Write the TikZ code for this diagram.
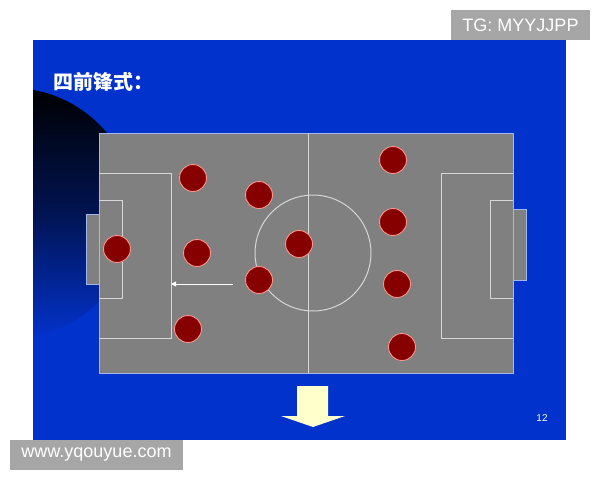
\documentclass[tikz,border=0pt]{standalone}
\usepackage{fontspec}
\setmainfont{Liberation Sans}
\newfontfamily\cjkfont{Noto Sans CJK SC}
\usetikzlibrary{arrows.meta}
\definecolor{slideblue}{RGB}{2,50,204}
\definecolor{fieldgray}{RGB}{128,128,128}
\definecolor{fieldedge}{RGB}{160,185,235}
\definecolor{fieldline}{RGB}{215,215,215}
\definecolor{playerred}{RGB}{135,0,0}
\definecolor{playeredge}{RGB}{250,150,140}
\definecolor{arrowyellow}{RGB}{255,255,204}
\definecolor{wmgray}{RGB}{166,166,166}
\tikzset{
  player/.style={circle,draw=playeredge,fill=playerred,line width=0.9pt,minimum size=27pt,inner sep=0pt},
  pline/.style={draw=fieldline,line width=1pt},
  wmbox/.style={text=white,font=\fontsize{18}{20}\selectfont,inner sep=0pt,anchor=center}
}
\begin{document}
\begin{tikzpicture}[x=1pt,y=-1pt]
\useasboundingbox (0,0) rectangle (600,480);
\fill[white] (0,0) rectangle (600,480);
% slide
\fill[slideblue] (33,40) rectangle (566,440);
\begin{scope}
\clip (33,40) rectangle (566,440);
\shade[top color=black,bottom color=slideblue,middle color=black!60!slideblue] (11,213) circle[radius=125];
\end{scope}
% title
\node[anchor=west,text=white,font=\cjkfont\bfseries\fontsize{20}{24}\selectfont,inner sep=0pt] (title) at (53,82) {四前锋式：};
% goals
\draw[fieldedge,fill=fieldgray,line width=0.8pt] (86,214) rectangle (99,284);
\draw[fieldedge,fill=fieldgray,line width=0.8pt] (513,209) rectangle (526,280);
% field
\draw[fieldedge,fill=fieldgray,line width=0.9pt] (99,133) rectangle (513,373);
\draw[pline] (308.5,133) -- (308.5,373);
\draw[pline] (313,253) circle[radius=58];
\draw[pline] (99,173) -- (171,173) -- (171,338) -- (99,338);
\draw[pline] (99,200) -- (122,200) -- (122,298) -- (99,298);
\draw[pline] (513,173) -- (441,173) -- (441,338) -- (513,338);
\draw[pline] (513,200) -- (490,200) -- (490,298) -- (513,298);
% players
\node[player] (p1) at (193,178) {};
\node[player] (p2) at (259,195) {};
\node[player] (p3) at (117,249) {};
\node[player] (p4) at (197,253) {};
\node[player] (p5) at (299,244) {};
\node[player] (p6) at (259,280) {};
\node[player] (p7) at (188,329) {};
\node[player] (p8) at (393,160) {};
\node[player] (p9) at (393,222) {};
\node[player] (p10) at (397,284) {};
\node[player] (p11) at (402,347) {};
% run arrow
\coordinate (runstart) at (233,284);
\coordinate (runend) at (171,284);
\draw[white,line width=0.8pt,-{Triangle[length=5pt,width=5pt]}] (runstart) -- (runend);
% big down arrow
\fill[arrowyellow] (297,386) -- (328,386) -- (328,416) -- (345,416) -- (313,427) -- (281,416) -- (297,416) -- cycle;
% page number
\node[text=white,font=\fontsize{10}{12}\selectfont,inner sep=0pt] (pagenum) at (542,418) {12};
% watermarks
\fill[wmgray] (451,10) rectangle (590,39.5);
\node[wmbox] (tg) at (520.5,25) {TG: MYYJJPP};
\fill[wmgray] (10,440) rectangle (183,470);
\node[wmbox] (www) at (96.5,455) {www.yqouyue.com};
\end{tikzpicture}
\end{document}
